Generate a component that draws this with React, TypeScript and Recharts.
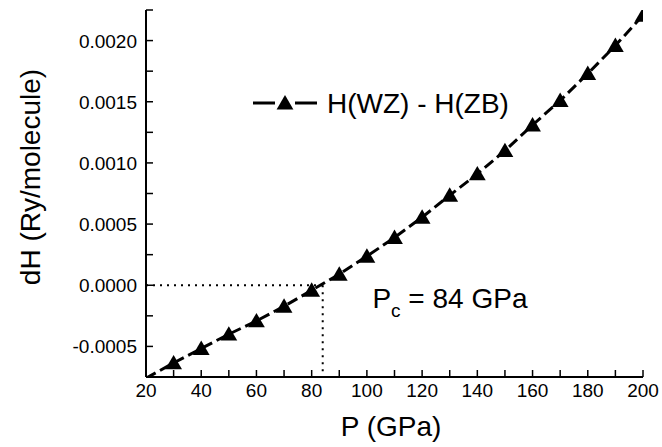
import React from "react";
import {
  LineChart,
  Line,
  XAxis,
  YAxis,
  ReferenceLine,
  ReferenceDot,
  Legend,
  Label,
} from "recharts";

// ---- data ----
const PRESSURE = [20, 30, 40, 50, 60, 70, 80, 90, 100, 110, 120, 130, 140, 150, 160, 170, 180, 190, 200];
const DELTA_H = [
  -0.00076, -0.000635, -0.000517, -0.0004, -0.000292, -0.000172, -0.000041, 0.00009, 0.000237,
  0.00039, 0.000556, 0.000735, 0.00091, 0.0011, 0.00131, 0.00151, 0.00173, 0.00196, 0.002206,
];
const X_TICKS = [20, 30, 40, 50, 60, 70, 80, 90, 100, 110, 120, 130, 140, 150, 160, 170, 180, 190, 200];
const X_LABELED = [20, 40, 60, 80, 100, 120, 140, 160, 180, 200];
const Y_TICKS = [
  -0.00075, -0.0005, -0.00025, 0, 0.00025, 0.0005, 0.00075, 0.001, 0.00125, 0.0015, 0.00175, 0.002, 0.00225,
];
const Y_LABELED = [-0.0005, 0, 0.0005, 0.001, 0.0015, 0.002];
const X_DOMAIN: [number, number] = [20, 200];
const Y_DOMAIN: [number, number] = [-0.00075, 0.00225];
const P_C = 84;
const SERIES_NAME = "H(WZ) - H(ZB)";
const X_TITLE = "P (GPa)";
const Y_TITLE = "dH (Ry/molecule)";

const data = PRESSURE.map((p, i) => ({ p, dh: DELTA_H[i] }));

const FONT = "'Liberation Sans', Arial, sans-serif";
const TICK_LEN = 7;

const isLabeledY = (v: number) => Y_LABELED.some((t) => Math.abs(t - v) < 1e-9);
const fmtY = (v: number) => (Math.abs(v) < 1e-12 ? "0.0000" : v.toFixed(4));

const BottomTick = (props: any) => {
  const { x, y, payload } = props;
  const v = payload.value;
  return (
    <g>
      <line x1={x} y1={y} x2={x} y2={y - TICK_LEN} stroke="#000" strokeWidth={1.5} />
      {X_LABELED.includes(v) && (
        <text x={x} y={y + 20} textAnchor="middle" fontSize={19} fontFamily={FONT} fill="#000">
          {v}
        </text>
      )}
    </g>
  );
};
const TopTick = (props: any) => {
  const { x, y } = props;
  return <line x1={x} y1={y} x2={x} y2={y + TICK_LEN} stroke="#000" strokeWidth={1.5} />;
};
const LeftTick = (props: any) => {
  const { x, y, payload } = props;
  const v = payload.value;
  return (
    <g>
      <line x1={x} y1={y} x2={x + TICK_LEN} y2={y} stroke="#000" strokeWidth={1.5} />
      {isLabeledY(v) && (
        <text x={x - 9} y={y + 7} textAnchor="end" fontSize={19} fontFamily={FONT} fill="#000">
          {fmtY(v)}
        </text>
      )}
    </g>
  );
};
const RightTick = (props: any) => {
  const { x, y } = props;
  return <line x1={x} y1={y} x2={x - TICK_LEN} y2={y} stroke="#000" strokeWidth={1.5} />;
};

const triPath = (cx: number, cy: number, s: number) =>
  `M${cx},${cy - s} L${cx + s * 1.05},${cy + s * 0.8} L${cx - s * 1.05},${cy + s * 0.8} Z`;

const TriangleDot = (props: any) => {
  const { cx, cy, payload, index } = props;
  if (payload == null || payload.dh < Y_DOMAIN[0] || cx == null || cy == null) {
    return <g key={`d-${index}`} />;
  }
  return <path key={`d-${index}`} d={triPath(cx, cy, 8)} fill="#000" stroke="none" />;
};

const LegendContent = () => (
  <svg width={300} height={40} style={{ display: "block" }}>
    <line x1={3} y1={19} x2={25} y2={19} stroke="#000" strokeWidth={3} />
    <line x1={45} y1={19} x2={67} y2={19} stroke="#000" strokeWidth={3} />
    <path d={triPath(35, 19, 8)} fill="#000" />
    <text x={77} y={29} fontSize={28} fontFamily={FONT} fill="#000">
      {SERIES_NAME}
    </text>
  </svg>
);

const PcLabel = (props: any) => {
  const { cx, cy } = props;
  return (
    <text x={cx} y={cy} fontSize={28} fontFamily={FONT} fill="#000">
      <tspan>P</tspan>
      <tspan fontSize={19} dy={9}>c</tspan>
      <tspan dy={-9}> = {P_C} GPa</tspan>
    </text>
  );
};

export default function App() {
  return (
    <div style={{ position: "absolute", left: 0, top: 0, background: "#fff" }}>
      <LineChart
        width={662}
        height={447}
        data={data}
        margin={{ top: 10, right: 19, bottom: 0, left: 0 }}
      >
        <XAxis
          dataKey="p"
          type="number"
          domain={X_DOMAIN}
          ticks={X_TICKS}
          interval={0}
          height={70}
          tickLine={false}
          tickSize={0}
          tickMargin={0}
          tick={BottomTick}
          axisLine={{ stroke: "#000", strokeWidth: 2 }}
          allowDataOverflow
        >
          <Label
            content={() => (
              <text x={391} y={436} textAnchor="middle" fontSize={28} fontFamily={FONT} fill="#000">
                {X_TITLE}
              </text>
            )}
          />
        </XAxis>
        <XAxis
          xAxisId="top"
          orientation="top"
          dataKey="p"
          type="number"
          domain={X_DOMAIN}
          ticks={X_TICKS}
          interval={0}
          height={0}
          tickLine={false}
          tickSize={0}
          tickMargin={0}
          tick={TopTick}
          axisLine={{ stroke: "#000", strokeWidth: 2 }}
          allowDataOverflow
        />
        <YAxis
          type="number"
          domain={Y_DOMAIN}
          ticks={Y_TICKS}
          interval={0}
          width={146}
          tickLine={false}
          tickSize={0}
          tickMargin={0}
          tick={LeftTick}
          axisLine={{ stroke: "#000", strokeWidth: 2 }}
          allowDataOverflow
        >
          <Label
            content={() => (
              <text
                x={40}
                y={177}
                transform="rotate(-90 40 177)"
                textAnchor="middle"
                fontSize={28}
                fontFamily={FONT}
                fill="#000"
              >
                {Y_TITLE}
              </text>
            )}
          />
        </YAxis>
        <YAxis
          yAxisId="right"
          orientation="right"
          type="number"
          domain={Y_DOMAIN}
          ticks={Y_TICKS}
          interval={0}
          width={0}
          tickLine={false}
          tickSize={0}
          tickMargin={0}
          tick={RightTick}
          axisLine={{ stroke: "#000", strokeWidth: 2 }}
          allowDataOverflow
        />
        <ReferenceLine
          segment={[{ x: X_DOMAIN[0], y: 0 }, { x: P_C, y: 0 }]}
          stroke="#000"
          strokeWidth={2}
          strokeDasharray="2 5"
        />
        <ReferenceLine
          segment={[{ x: P_C, y: 0 }, { x: P_C, y: Y_DOMAIN[0] }]}
          stroke="#000"
          strokeWidth={2}
          strokeDasharray="2 5"
        />
        <ReferenceDot x={102} y={-0.00019} r={0} shape={PcLabel} ifOverflow="visible" />
        <Line
          type="linear"
          dataKey="dh"
          name={SERIES_NAME}
          stroke="#000"
          strokeWidth={3}
          strokeDasharray="11 5"
          dot={TriangleDot}
          activeDot={false}
          isAnimationActive={false}
        />
        <Legend
          layout="vertical"
          align="center"
          verticalAlign="middle"
          content={LegendContent}
          wrapperStyle={{ left: 250, top: 84, width: 300 }}
        />
      </LineChart>
    </div>
  );
}
